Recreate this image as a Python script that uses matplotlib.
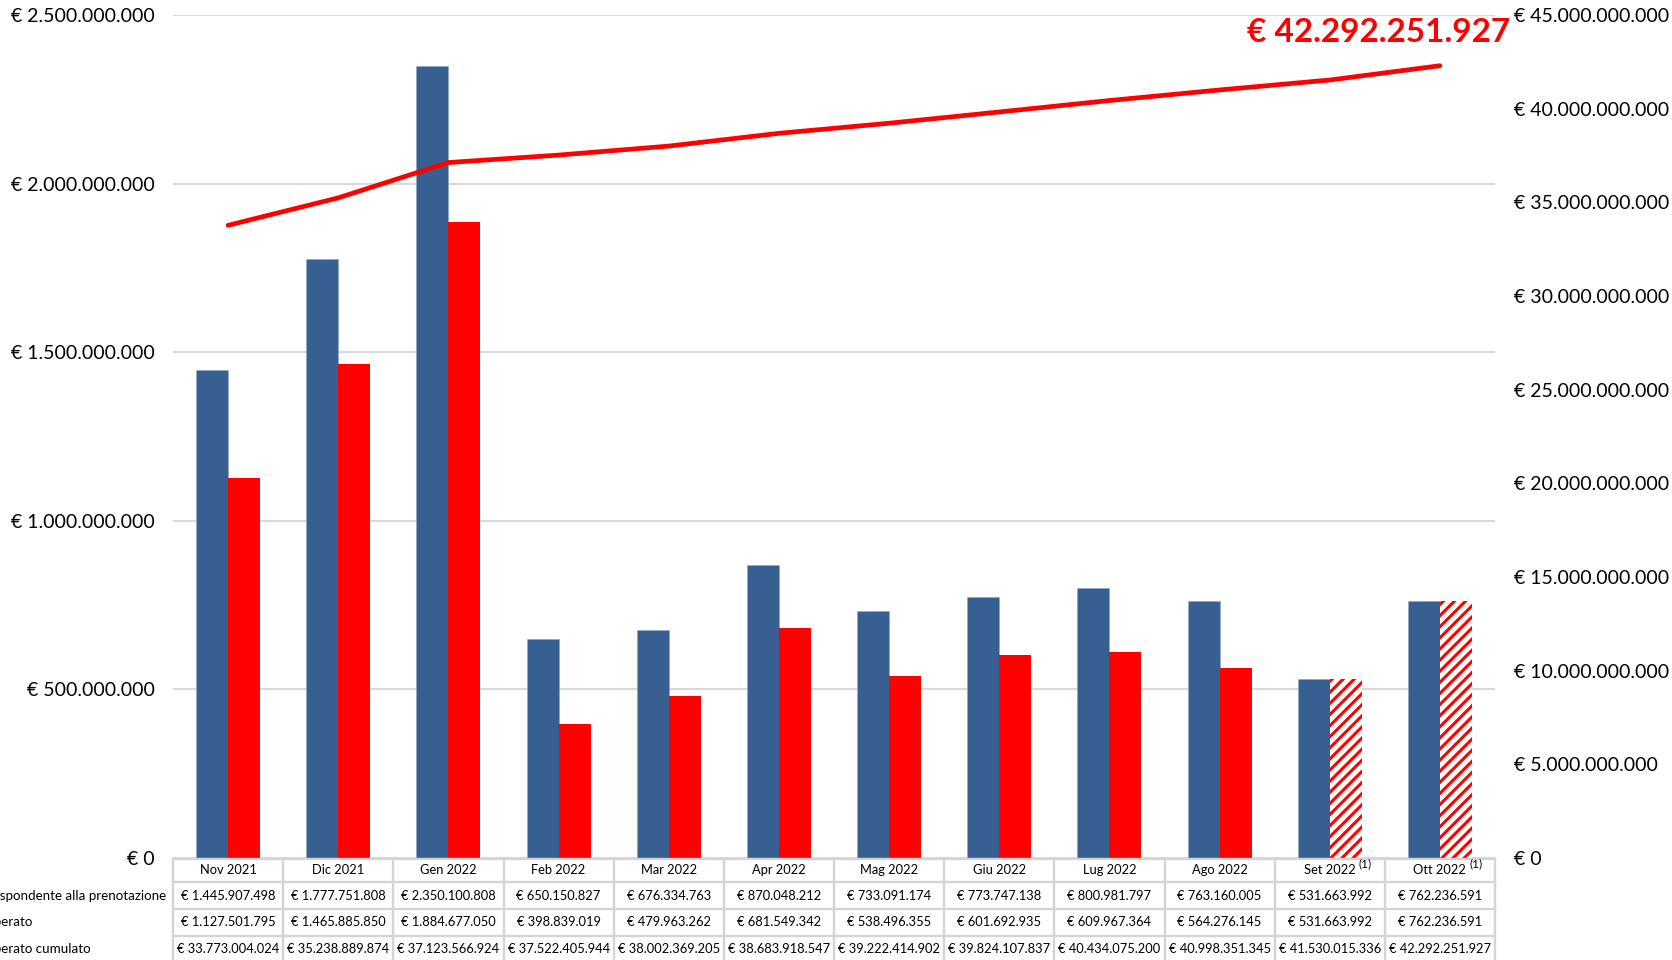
import matplotlib
matplotlib.use('Agg')
import matplotlib.pyplot as plt
from matplotlib.lines import Line2D
from matplotlib.ticker import FuncFormatter, MultipleLocator
import numpy as np

plt.rcParams['font.family'] = ['Lato', 'DejaVu Sans']
plt.rcParams['hatch.linewidth'] = 2.2

# ---------------- data ----------------
months = ['Nov 2021', 'Dic 2021', 'Gen 2022', 'Feb 2022', 'Mar 2022', 'Apr 2022',
          'Mag 2022', 'Giu 2022', 'Lug 2022', 'Ago 2022', 'Set 2022', 'Ott 2022']
month_notes = ['', '', '', '', '', '', '', '', '', '', '(1)', '(1)']
prenotazione = [1445907498, 1777751808, 2350100808, 650150827, 676334763, 870048212,
                733091174, 773747138, 800981797, 763160005, 531663992, 762236591]
deliberato = [1127501795, 1465885850, 1884677050, 398839019, 479963262, 681549342,
              538496355, 601692935, 609967364, 564276145, 531663992, 762236591]
cumulato = [33773004024, 35238889874, 37123566924, 37522405944, 38002369205, 38683918547,
            39222414902, 39824107837, 40434075200, 40998351345, 41530015336, 42292251927]
stimato = [False, False, False, False, False, False, False, False, False, False, True, True]
row_labels = ['Importo corrispondente alla prenotazione', 'Importo deliberato',
              'Importo deliberato cumulato']
hidden_prefix = 'Importo corri'

BLUE = '#375F91'
RED = '#FF0000'
GRID = '#D9D9D9'


def eur(v, pos=None):
    return '€ ' + f'{v:,.0f}'.replace(',', '.')


# ---------------- figure / layout (pixels) ----------------
W, H, DPI = 1672, 960, 100
fig = plt.figure(figsize=(W / DPI, H / DPI), dpi=DPI)
L, R, T, B = 173, 1495, 15, 858


def fx(px):
    return px / W


def fy(py):
    return 1 - py / H


ax = fig.add_axes([fx(L), fy(B), (R - L) / W, (B - T) / H])
n = len(months)
x = np.arange(n)
bw = 0.29

ax.bar(x - bw / 2, prenotazione, bw, color=BLUE, edgecolor='#8FA8C8', linewidth=0.4, zorder=3)
for xi, v, est in zip(x, deliberato, stimato):
    if est:
        ax.bar(xi + bw / 2, v, bw, facecolor='white', edgecolor=RED, hatch='///',
               linewidth=0, zorder=3)
    else:
        ax.bar(xi + bw / 2, v, bw, color=RED, linewidth=0, zorder=3)

ax.set_xlim(-0.5, n - 0.5)
ax.set_ylim(0, 2.5e9)
ax.yaxis.set_major_locator(MultipleLocator(5e8))
ax.yaxis.set_major_formatter(FuncFormatter(eur))
ax.grid(axis='y', color=GRID, lw=1.5, zorder=0)
ax.set_axisbelow(True)
ax.set_xticks([])
for s in ax.spines.values():
    s.set_visible(False)
ax.tick_params(axis='y', length=0, pad=13, labelsize=14)

ax2 = ax.twinx()
ax2.plot(x, cumulato, color=RED, lw=3.4, solid_capstyle='round', solid_joinstyle='round', zorder=4)
ax2.set_ylim(0, 45e9)
ax2.yaxis.set_major_locator(MultipleLocator(5e9))
ax2.yaxis.set_major_formatter(FuncFormatter(eur))
for s in ax2.spines.values():
    s.set_visible(False)
ax2.tick_params(axis='y', length=0, pad=13.5, labelsize=14)
ax2.set_xlim(-0.5, n - 0.5)

# big label of the last cumulative value
fig.text(fx(1247), fy(42), eur(cumulato[-1]), color=RED, fontsize=24,
         fontweight='bold', ha='left', va='baseline')

# ---------------- table ----------------
cw = (R - L) / n
row_edges = [859, 882, 909, 936, 962]
row_centers = [(row_edges[i] + row_edges[i + 1]) / 2 for i in range(4)]
tcol = '#D4D4D4'
for y in row_edges[:-1]:
    fig.add_artist(Line2D([fx(L), fx(R)], [fy(y), fy(y)], color=tcol, lw=1.7))
for i in range(n + 1):
    xx = L + i * cw
    fig.add_artist(Line2D([fx(xx), fx(xx)], [fy(row_edges[0]), fy(row_edges[-1])],
                          color=tcol, lw=1.7))

fs = 9.3
month_texts = []
for i, m in enumerate(months):
    cx = L + (i + 0.5) * cw
    month_texts.append(fig.text(fx(cx), fy(row_centers[0]), m, ha='center', va='center',
                                fontsize=fs))
rows = [prenotazione, deliberato, cumulato]
for r, vals in enumerate(rows):
    for i, v in enumerate(vals):
        cx = L + (i + 0.5) * cw
        fig.text(fx(cx), fy(row_centers[r + 1]), eur(v), ha='center', va='center', fontsize=fs)

fs_lab = 9.65
fig.canvas.draw()
renderer = fig.canvas.get_renderer()
probe = fig.text(0, 0, hidden_prefix + 's', fontsize=fs_lab)
probe_s = fig.text(0, 0, 's', fontsize=fs_lab)
pw = probe.get_window_extent(renderer).width - probe_s.get_window_extent(renderer).width
probe.remove()
probe_s.remove()
for r in range(3):
    fig.text(-pw / W, fy(row_centers[r + 1]), row_labels[r], ha='left', va='center',
             fontsize=fs_lab)

for t, note in zip(month_texts, month_notes):
    if note:
        bb = t.get_window_extent(renderer)
        fig.text((bb.x1 + 3) / W, fy(864), note, ha='left', va='center', fontsize=8.5)

fig.savefig('out.png', dpi=DPI)
